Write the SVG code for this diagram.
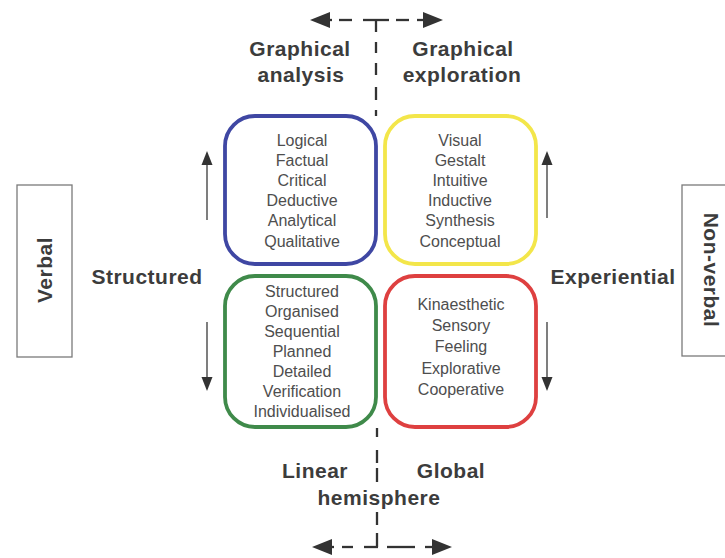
<svg xmlns="http://www.w3.org/2000/svg" width="725" height="558" viewBox="0 0 725 558">
  <defs>
    <style>
      .box { fill: #ffffff; stroke-width: 3.8; }
      .item { font-family: "Liberation Sans", Arial, sans-serif; font-size: 16px; fill: #4e4e4e; text-anchor: middle; }
      .label { font-family: "Liberation Sans", Arial, sans-serif; font-size: 21px; font-weight: bold; fill: #3c3c3c; text-anchor: middle; letter-spacing: 0.5px; }
      .dash { stroke: #333333; stroke-width: 2.3; fill: none; }
      .thin { stroke: #3a3a3a; stroke-width: 1.3; fill: none; }
      .head { fill: #333333; }
      .frame { fill: #ffffff; stroke: #7a7a7a; stroke-width: 1.3; }
    </style>
  </defs>
  <rect width="725" height="558" fill="#ffffff"/>

  <!-- connectors: dashed hemisphere axes and side arrows -->
  <g id="connectors">
    <!-- top horizontal axis -->
    <polygon class="head" points="310,20 330,12 330,28"/>
    <line class="dash" x1="326" y1="20" x2="332" y2="20"/>
    <line class="dash" x1="339" y1="20" x2="352" y2="20"/>
    <line class="dash" x1="363" y1="20" x2="389" y2="20"/>
    <line class="dash" x1="396" y1="20" x2="409" y2="20"/>
    <line class="dash" x1="417" y1="20" x2="426" y2="20"/>
    <polygon class="head" points="443,20 423,12 423,28"/>
    <!-- top vertical axis -->
    <line class="dash" x1="376" y1="20" x2="376" y2="32"/>
    <line class="dash" x1="376" y1="42" x2="376" y2="53"/>
    <line class="dash" x1="376" y1="63" x2="376" y2="75"/>
    <line class="dash" x1="376" y1="87" x2="376" y2="100"/>
    <line class="dash" x1="376" y1="110" x2="376" y2="116"/>
    <!-- bottom vertical axis -->
    <line class="dash" x1="377" y1="428" x2="377" y2="437"/>
    <line class="dash" x1="377" y1="450" x2="377" y2="463"/>
    <line class="dash" x1="377" y1="468" x2="377" y2="482"/>
    <line class="dash" x1="377" y1="512" x2="377" y2="525"/>
    <line class="dash" x1="377" y1="533" x2="377" y2="547"/>
    <!-- bottom horizontal axis -->
    <polygon class="head" points="312,547 332,539 332,555"/>
    <line class="dash" x1="328" y1="547" x2="334" y2="547"/>
    <line class="dash" x1="342" y1="547" x2="353" y2="547"/>
    <line class="dash" x1="364" y1="547" x2="378" y2="547"/>
    <line class="dash" x1="387" y1="547" x2="415" y2="547"/>
    <line class="dash" x1="425" y1="547" x2="436" y2="547"/>
    <polygon class="head" points="452,547 432,539 432,555"/>
    <!-- side arrows -->
    <line class="thin" x1="207" y1="220" x2="207" y2="162"/>
    <polygon class="head" points="207,151 201.5,165 212.5,165"/>
    <line class="thin" x1="207" y1="322" x2="207" y2="379"/>
    <polygon class="head" points="207,391 201.5,377 212.5,377"/>
    <line class="thin" x1="547" y1="218" x2="547" y2="162"/>
    <polygon class="head" points="547,151 541.5,165 552.5,165"/>
    <line class="thin" x1="547" y1="322" x2="547" y2="379"/>
    <polygon class="head" points="547,391 541.5,377 552.5,377"/>
  </g>

  <!-- quadrant boxes -->
  <g id="analysis-box">
    <rect class="box" x="225" y="116" width="151" height="148" rx="30" stroke="#3f47a3"/>
    <text class="item" x="302" y="146">Logical</text>
    <text class="item" x="302" y="166">Factual</text>
    <text class="item" x="302" y="186">Critical</text>
    <text class="item" x="302" y="206">Deductive</text>
    <text class="item" x="302" y="226">Analytical</text>
    <text class="item" x="302" y="247">Qualitative</text>
  </g>
  <g id="exploration-box">
    <rect class="box" x="385" y="116" width="151" height="148" rx="30" stroke="#f3e64a"/>
    <text class="item" x="460" y="146">Visual</text>
    <text class="item" x="460" y="166">Gestalt</text>
    <text class="item" x="460" y="186">Intuitive</text>
    <text class="item" x="460" y="206">Inductive</text>
    <text class="item" x="460" y="226">Synthesis</text>
    <text class="item" x="460" y="247">Conceptual</text>
  </g>
  <g id="structured-box">
    <rect class="box" x="225" y="276" width="151" height="151" rx="30" stroke="#3f8a4a"/>
    <text class="item" x="302" y="297">Structured</text>
    <text class="item" x="302" y="317">Organised</text>
    <text class="item" x="302" y="337">Sequential</text>
    <text class="item" x="302" y="357">Planned</text>
    <text class="item" x="302" y="377">Detailed</text>
    <text class="item" x="302" y="397">Verification</text>
    <text class="item" x="302" y="417">Individualised</text>
  </g>
  <g id="experiential-box">
    <rect class="box" x="385" y="276" width="151" height="151" rx="30" stroke="#de4040"/>
    <text class="item" x="461" y="310">Kinaesthetic</text>
    <text class="item" x="461" y="331">Sensory</text>
    <text class="item" x="461" y="352">Feeling</text>
    <text class="item" x="461" y="374">Explorative</text>
    <text class="item" x="461" y="395">Cooperative</text>
  </g>

  <!-- axis labels -->
  <g id="graphical-analysis">
    <text class="label" x="300" y="56">Graphical</text>
    <text class="label" x="301" y="82">analysis</text>
  </g>
  <g id="graphical-exploration">
    <text class="label" x="463" y="56">Graphical</text>
    <text class="label" x="462" y="82">exploration</text>
  </g>
  <g id="structured-label">
    <text class="label" x="147" y="284">Structured</text>
  </g>
  <g id="experiential-label">
    <text class="label" x="613" y="284">Experiential</text>
  </g>
  <g id="linear-label">
    <text class="label" x="315" y="478">Linear</text>
  </g>
  <g id="global-label">
    <text class="label" x="451" y="478">Global</text>
  </g>
  <g id="hemisphere-label">
    <text class="label" x="379" y="505">hemisphere</text>
  </g>

  <!-- side frames -->
  <g id="verbal">
    <rect class="frame" x="17" y="185" width="55" height="172"/>
    <text class="label" transform="translate(52,270) rotate(-90)" x="0" y="0">Verbal</text>
  </g>
  <g id="non-verbal">
    <rect class="frame" x="682" y="185" width="60" height="171"/>
    <text class="label" transform="translate(704,270) rotate(90)" x="0" y="0">Non-verbal</text>
  </g>
</svg>
